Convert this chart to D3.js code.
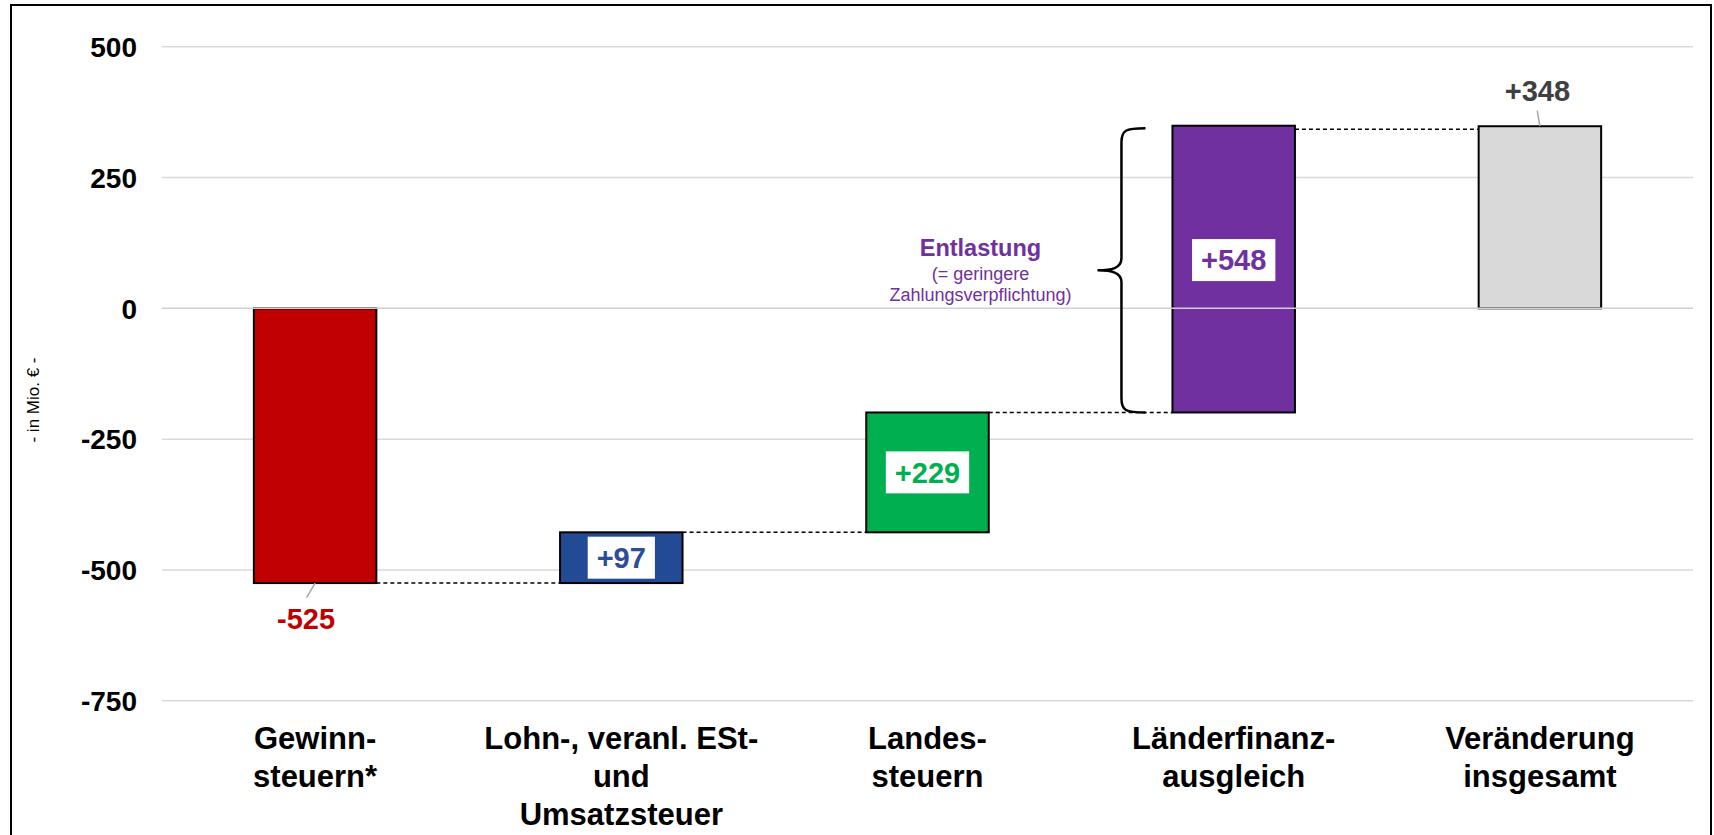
<!DOCTYPE html>
<html>
<head>
<meta charset="utf-8">
<script src="https://cdn.jsdelivr.net/npm/d3@7"></script>
<style>
  body { margin: 0; background: #fff; }
  svg { display: block; }
  text { font-family: "Liberation Sans", Arial, Helvetica, sans-serif; }
</style>
</head>
<body>
<svg id="chart" width="1714" height="835"></svg>
<script>
// Waterfall: contributions to the change of the state's payment obligation
const categories = [
  ["Gewinn-", "steuern*"],
  ["Lohn-, veranl. ESt-", "und", "Umsatzsteuer"],
  ["Landes-", "steuern"],
  ["Länderfinanz-", "ausgleich"],
  ["Veränderung", "insgesamt"]
];
const changes = [-525, 97, 229, 548];
const total = 348;
const valueLabels = ["-525", "+97", "+229", "+548", "+348"];
const barColors = ["#c00000", "#234a94", "#00b050", "#7030a0", "#d9d9d9"];
const labelColors = ["#c00000", "#2b4d9a", "#00b050", "#7030a0", "#404040"];
const yTicks = [500, 250, 0, -250, -500, -750];
const yTitle = "- in Mio. € -";
const noteTitle = "Entlastung";
const noteLines = ["(= geringere", "Zahlungsverpflichtung)"];

// Build waterfall segments (start/end of each bar)
const steps = [];
let cum = 0;
changes.forEach((c, i) => {
  steps.push({ i, start: cum, end: cum + c });
  cum += c;
});
steps.push({ i: changes.length, start: 0, end: total, total: true });

const svg = d3.select("#chart");

// Outer frame
svg.append("rect")
  .attr("x", 11).attr("y", 5).attr("width", 1700).attr("height", 860)
  .attr("fill", "none").attr("stroke", "#000").attr("stroke-width", 2);

const x = d3.scaleBand()
  .domain(d3.range(categories.length))
  .range([162, 1693])
  .paddingInner(0.6)
  .paddingOuter(0.3);

const y = d3.scaleLinear().domain([-750, 500]).range([700.8, 46.7]);

// Gridlines (zero line drawn later, above the bars)
svg.append("g").selectAll("line")
  .data(yTicks.filter(t => t !== 0))
  .join("line")
  .attr("x1", 162).attr("x2", 1693)
  .attr("y1", d => y(d)).attr("y2", d => y(d))
  .attr("stroke", "#d9d9d9").attr("stroke-width", 1.5);

// Y axis tick labels (plain hyphen-minus for negatives)
const yAxis = d3.axisLeft(y).tickValues(yTicks).tickSize(0).tickPadding(0).tickFormat(d => String(d));
const gy = svg.append("g").attr("transform", "translate(137,0)").call(yAxis);
gy.select(".domain").remove();
gy.selectAll("text")
  .attr("font-family", "'Liberation Sans', Arial, sans-serif")
  .attr("font-size", 28).attr("font-weight", "bold").attr("fill", "#000")
  .attr("dy", "0.35em");

// Y title
svg.append("text")
  .attr("transform", "translate(35,400) rotate(-90)")
  .attr("text-anchor", "middle").attr("dominant-baseline", "middle")
  .attr("font-size", 17).attr("fill", "#000")
  .text(yTitle);

// Dashed connectors between consecutive bars
const conn = svg.append("g");
for (let k = 0; k < steps.length - 1; k++) {
  const a = steps[k], b = steps[k + 1];
  const lvl = b.total ? b.end : a.end;
  conn.append("line")
    .attr("x1", x(a.i) + x.bandwidth()).attr("x2", x(b.i))
    .attr("y1", y(lvl) + (b.total ? 3 : 0)).attr("y2", y(lvl) + (b.total ? 3 : 0))
    .attr("stroke", "#000").attr("stroke-width", 1.5)
    .attr("stroke-dasharray", "4,3");
}

// Bars
svg.append("g").selectAll("rect")
  .data(steps)
  .join("rect")
  .attr("x", d => x(d.i))
  .attr("width", x.bandwidth())
  .attr("y", d => y(Math.max(d.start, d.end)))
  .attr("height", d => Math.abs(y(d.start) - y(d.end)))
  .attr("fill", d => barColors[d.i])
  .attr("stroke", "#000").attr("stroke-width", 2);

// Zero line above bars
svg.append("line")
  .attr("x1", 162).attr("x2", 1693)
  .attr("y1", y(0)).attr("y2", y(0))
  .attr("stroke", "#d0d0d0").attr("stroke-width", 1.5);

// Boxed labels inside the middle bars
const labelG = svg.append("g");
steps.forEach(d => {
  const cx = x(d.i) + x.bandwidth() / 2;
  if (d.i >= 1 && d.i <= 3) {
    const cy = (y(d.start) + y(d.end)) / 2 + (d.i === 3 ? -9 : 0);
    const box = labelG.append("rect").attr("fill", "#fff");
    const t = labelG.append("text")
      .attr("x", cx).attr("y", cy)
      .attr("text-anchor", "middle").attr("dy", "0.35em")
      .attr("font-size", 29).attr("font-weight", "bold")
      .attr("fill", labelColors[d.i])
      .text(valueLabels[d.i]);
    const bb = t.node().getBBox();
    box.attr("x", cx - bb.width / 2 - 9).attr("width", bb.width + 18)
      .attr("y", cy - 21).attr("height", 42);
  }
});

// Outside label for the first bar, with leader line
{
  const d = steps[0];
  const cx = x(d.i) + x.bandwidth() / 2;
  const yb = y(d.end);
  labelG.append("line")
    .attr("x1", cx).attr("y1", yb).attr("x2", cx - 8.5).attr("y2", yb + 14.5)
    .attr("stroke", "#a6a6a6").attr("stroke-width", 1.5);
  labelG.append("text")
    .attr("x", cx - 9).attr("y", yb + 46)
    .attr("text-anchor", "middle")
    .attr("font-size", 29).attr("font-weight", "bold")
    .attr("fill", labelColors[d.i])
    .text(valueLabels[d.i]);
}
// Outside label for the total bar
{
  const d = steps[4];
  const cx = x(d.i) + x.bandwidth() / 2;
  const yt = y(d.end);
  labelG.append("line")
    .attr("x1", cx).attr("y1", yt).attr("x2", cx - 2.7).attr("y2", yt - 15.5)
    .attr("stroke", "#a6a6a6").attr("stroke-width", 1.5);
  labelG.append("text")
    .attr("x", cx - 2.5).attr("y", yt - 25)
    .attr("text-anchor", "middle")
    .attr("font-size", 29).attr("font-weight", "bold")
    .attr("fill", labelColors[d.i])
    .text(valueLabels[d.i]);
}

// Curly brace spanning the Länderfinanzausgleich bar
{
  const d = steps[3];
  const left = x(d.i);
  const top = y(d.end) + 2.5, bottom = y(d.start);
  const mid = (top + bottom) / 2;
  const tipX = left - 27, spineX = left - 51, pointX = left - 75;
  const p = d3.path();
  p.moveTo(tipX, top);
  p.bezierCurveTo(spineX + 4, top, spineX, top + 2, spineX, top + 14);
  p.lineTo(spineX, mid - 12);
  p.bezierCurveTo(spineX, mid - 2, spineX - 10, mid, pointX, mid);
  p.bezierCurveTo(spineX - 10, mid, spineX, mid + 2, spineX, mid + 12);
  p.lineTo(spineX, bottom - 14);
  p.bezierCurveTo(spineX, bottom - 2, spineX + 4, bottom, tipX, bottom);
  svg.append("path").attr("d", p.toString())
    .attr("fill", "none").attr("stroke", "#000").attr("stroke-width", 2.5);

  const tx = pointX - 117;
  svg.append("text")
    .attr("x", tx).attr("y", mid - 14)
    .attr("text-anchor", "middle")
    .attr("font-size", 23.5).attr("font-weight", "bold").attr("fill", "#7030a0")
    .text(noteTitle);
  noteLines.forEach((s, k) => {
    svg.append("text")
      .attr("x", tx).attr("y", mid + 9.5 + k * 21.5)
      .attr("text-anchor", "middle")
      .attr("font-size", 18).attr("fill", "#7030a0")
      .text(s);
  });
}

// Category labels
const catG = svg.append("g");
categories.forEach((lines, i) => {
  const t = catG.append("text")
    .attr("text-anchor", "middle")
    .attr("font-size", 31).attr("font-weight", "bold").attr("fill", "#000");
  lines.forEach((s, k) => {
    t.append("tspan")
      .attr("x", x(i) + x.bandwidth() / 2)
      .attr("y", 749 + k * 38)
      .text(s);
  });
});
</script>
</body>
</html>
